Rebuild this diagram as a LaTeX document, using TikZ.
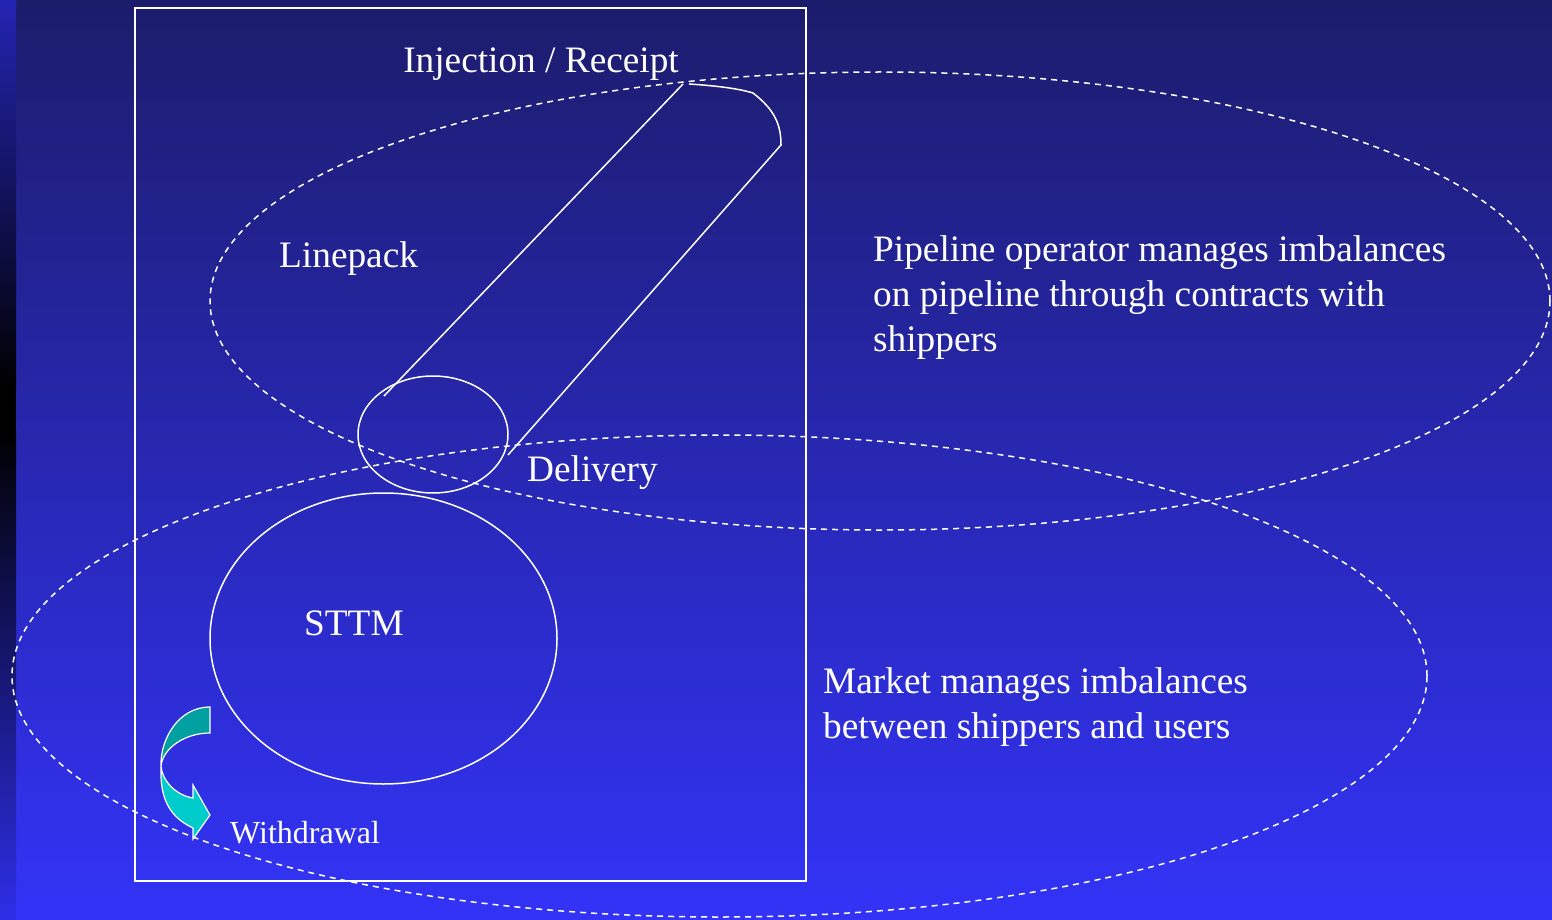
\documentclass[tikz,border=0pt]{standalone}
\usepackage{fontspec}
\setmainfont{Liberation Serif}
\usetikzlibrary{shapes.geometric}
\begin{document}
\begin{tikzpicture}[x=1pt,y=-1pt,
  lbl/.style={text=white,font=\fontsize{37.3}{45}\selectfont,inner sep=0pt},
  solidline/.style={draw=white,line width=1.5pt},
  dashline/.style={draw=white,line width=1.5pt,dash pattern=on 6pt off 5pt}]
\definecolor{topbg}{RGB}{28,28,108}
\definecolor{botbg}{RGB}{51,51,248}
\definecolor{striptop}{RGB}{36,36,180}
\definecolor{stripbot}{RGB}{46,46,232}
\definecolor{darkteal}{RGB}{0,160,160}
\definecolor{lightteal}{RGB}{0,204,204}
\useasboundingbox (0,0) rectangle (1552,920);
% background
\shade[top color=topbg,bottom color=botbg] (16,0) rectangle (1552,920);
\shade[top color=striptop,bottom color=black] (0,0) rectangle (16,390);
\fill[black] (0,389) rectangle (16,431);
\shade[top color=black,bottom color=stripbot] (0,430) rectangle (16,920);
% frame
\node[solidline,rectangle,minimum width=671pt,minimum height=873pt,inner sep=0pt] (frame) at (470.5,444.5) {};
% dashed ellipses
\node[dashline,ellipse,minimum width=1340pt,minimum height=458pt,inner sep=0pt] (upper) at (880,301) {};
\node[dashline,ellipse,minimum width=1415pt,minimum height=482pt,inner sep=0pt] (lower) at (719.5,676) {};
% delivery ellipse
\node[solidline,ellipse,minimum width=150pt,minimum height=117pt,inner sep=0pt] (deliv) at (433,434.5) {};
% STTM ellipse
\node[solidline,ellipse,minimum width=347pt,minimum height=291pt,inner sep=0pt] (sttm) at (383.5,638.5) {};
% pipeline
\coordinate (pA) at (384,396);
\coordinate (pB) at (683,84);
\coordinate (pC) at (689,84);
\coordinate (pD) at (753,93);
\coordinate (pE) at (781,145);
\coordinate (pF) at (508,455);
\draw[solidline] (pA) -- (pB);
\draw[solidline] (pC) .. controls (720,86) and (740,89) .. (pD) .. controls (775,110) and (781,125) .. (pE) -- (pF);
% curved arrow
\fill[darkteal,draw=white,line width=1.2pt] (210,707) -- (210,733) .. controls (185,733) and (163,748) .. (161,766) .. controls (160,740) and (178,707) .. cycle;
\fill[lightteal,draw=white,line width=1.2pt] (161,766) .. controls (160,792) and (165,815) .. (193,828) -- (193,839) -- (210,815) -- (193,785) -- (193,798) .. controls (175,795) and (162,780) .. cycle;
% labels
\node[lbl,anchor=base] (inj) at (541,73) {Injection / Receipt};
\node[lbl,anchor=base west] (lp) at (279,267) {Linepack};
\node[lbl,anchor=base west,align=left] (pipe) at (873,351) {Pipeline operator manages imbalances\\on pipeline through contracts with\\shippers};
\node[lbl,anchor=base west] (dl) at (527,481) {Delivery};
\node[lbl,anchor=base west] (st) at (304,635) {STTM};
\node[lbl,anchor=base west,align=left] (mk) at (823,738) {Market manages imbalances\\between shippers and users};
\node[lbl,anchor=base west,font=\fontsize{32}{36}\selectfont] (wd) at (230,843) {Withdrawal};
\end{tikzpicture}
\end{document}
